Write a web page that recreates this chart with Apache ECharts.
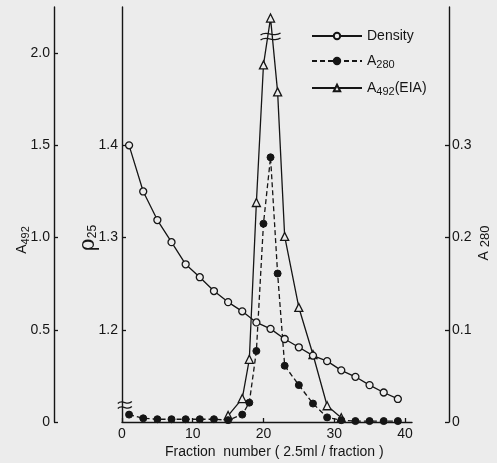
<!DOCTYPE html>
<html>
<head>
<meta charset="utf-8">
<script src="https://cdn.jsdelivr.net/npm/echarts@6/dist/echarts.min.js"></script>
<style>
  html, body { margin: 0; background: #ececec; }
  #c { width: 497px; height: 463px; }
</style>
</head>
<body>
<div id="c"></div>
<script>
const fractionTicks = [0, 10, 20, 30, 40];
const densityTicks = [1.2, 1.3, 1.4];
const a492Ticks = [0, 0.5, 1.0, 1.5, 2.0];
const a280Ticks = [0, 0.1, 0.2, 0.3];

const densityFractions = [1, 3, 5, 7, 9, 11, 13, 15, 17, 19, 21, 23, 25, 27, 29, 31, 33, 35, 37, 39];
const densityValues = [1.400, 1.350, 1.319, 1.295, 1.271, 1.257, 1.242, 1.230, 1.220, 1.208,
                       1.201, 1.190, 1.181, 1.172, 1.166, 1.156, 1.149, 1.140, 1.132, 1.125];

const a280Fractions = [1, 3, 5, 7, 9, 11, 13, 15, 17, 18, 19, 20, 21, 22, 23, 25, 27, 29, 31, 33, 35, 37, 39];
const a280Values = [0.008, 0.004, 0.003, 0.003, 0.003, 0.003, 0.003, 0.002, 0.008, 0.021, 0.077, 0.215,
                    0.287, 0.161, 0.061, 0.040, 0.020, 0.005, 0.002, 0.001, 0.001, 0.001, 0.001];

const a492Fractions = [15, 17, 18, 19, 20, 21, 22, 23, 25, 27, 29, 31];
const a492Values = [0.035, 0.127, 0.340, 1.19, 1.936, 2.19, 1.79, 1.006, 0.621, 0.366, 0.088, 0.023];

const BG = '#ececec';
const INK = '#151515';
const FONT = 'Liberation Sans, Arial, sans-serif';
const SUB = { fontSize: 11, fontFamily: FONT, color: INK, padding: [7, 0, 0, 0] };

const zip = (xs, ys) => xs.map((x, i) => [x, ys[i]]);

const Y_AXIS = {
  type: 'value',
  axisLine: { show: true, onZero: false, lineStyle: { color: INK, width: 1.4 } },
  axisTick: { show: true, inside: true, length: 4, lineStyle: { color: INK, width: 1.3 } },
  axisLabel: { color: INK, fontSize: 14, fontFamily: FONT, margin: 4 },
  splitLine: { show: false },
};

const c = echarts.init(document.getElementById('c'), null, { renderer: 'canvas' });
c.setOption({
  backgroundColor: BG,
  animation: false,
  textStyle: { fontFamily: FONT, color: INK },
  grid: { left: 122, right: 85, top: 7, bottom: 41 },
  legend: {
    left: 306, top: 24, orient: 'vertical',
    itemWidth: 50, itemHeight: 8, itemGap: 11,
    textStyle: { fontSize: 14, color: INK, fontFamily: FONT, rich: { s: SUB } },
    formatter: n => n === 'Density' ? n : n === 'A280' ? 'A{s|280}' : 'A{s|492}(EIA)',
    data: ['Density', 'A280', 'A492'],
  },
  xAxis: {
    type: 'value', min: 0, max: 41,
    axisLine: { show: true, onZero: false, lineStyle: { color: INK, width: 1.4 } },
    axisTick: { show: true, inside: true, length: 4, customValues: fractionTicks, lineStyle: { color: INK, width: 1.3 } },
    axisLabel: { color: INK, fontSize: 14, fontFamily: FONT, margin: 5, customValues: fractionTicks },
    splitLine: { show: false },
  },
  yAxis: [
    {
      ...Y_AXIS, position: 'left', offset: 68, min: 0, max: 2.25,
      axisTick: { ...Y_AXIS.axisTick, customValues: a492Ticks },
      axisLabel: { ...Y_AXIS.axisLabel, customValues: a492Ticks, formatter: v => v === 0 ? '0' : v.toFixed(1) },
    },
    {
      ...Y_AXIS, position: 'left', offset: 0, min: 1.1, max: 1.55,
      axisTick: { ...Y_AXIS.axisTick, customValues: densityTicks },
      axisLabel: { ...Y_AXIS.axisLabel, customValues: densityTicks, formatter: v => v.toFixed(1) },
    },
    {
      ...Y_AXIS, position: 'right', offset: 37, min: 0, max: 0.45,
      axisTick: { ...Y_AXIS.axisTick, customValues: a280Ticks },
      axisLabel: { ...Y_AXIS.axisLabel, margin: 3, customValues: a280Ticks, formatter: v => v === 0 ? '0' : v.toFixed(1) },
    },
  ],
  series: [
    {
      name: 'A492', type: 'line', yAxisIndex: 0, data: zip(a492Fractions, a492Values),
      symbol: 'triangle', symbolSize: 8,
      lineStyle: { color: INK, width: 1.3 },
      itemStyle: { color: BG, borderColor: INK, borderWidth: 1.3 },
    },
    {
      name: 'A280', type: 'line', yAxisIndex: 2, data: zip(a280Fractions, a280Values),
      symbol: 'circle', symbolSize: 7,
      lineStyle: { color: INK, width: 1.3, type: [5, 3] },
      itemStyle: { color: INK, borderColor: INK, borderWidth: 1 },
    },
    {
      name: 'Density', type: 'line', yAxisIndex: 1, data: zip(densityFractions, densityValues),
      symbol: 'circle', symbolSize: 7,
      lineStyle: { color: INK, width: 1.3 },
      itemStyle: { color: BG, borderColor: INK, borderWidth: 1.3 },
    },
  ],
});

// axis-break marks, placed through the scales
function breakMark(pt, w, tilt) {
  const [x, y] = c.convertToPixel({ xAxisIndex: 0, yAxisIndex: 0 }, pt);
  const wave = dy => ({
    type: 'bezierCurve',
    shape: { x1: -w / 2, y1: dy + tilt, x2: w / 2, y2: dy - tilt,
             cpx1: -w / 6, cpy1: dy - 4, cpx2: w / 6, cpy2: dy + 4 },
    style: { stroke: INK, lineWidth: 1.3, fill: null },
  });
  return {
    type: 'group', x, y, z: 100,
    children: [
      { type: 'rect', shape: { x: -w / 2, y: -2, width: w, height: 4 }, style: { fill: BG } },
      wave(-2.5), wave(2.5),
    ],
  };
}

c.setOption({
  graphic: [
    breakMark([21, 2.09], 20, 1),
    breakMark([0.4, 0.092], 14, 1),
    {
      type: 'text', x: 22, y: 240, rotation: Math.PI / 2, z: 100,
      style: { text: 'A{s|492}', font: '14px ' + FONT, fill: INK, align: 'center', verticalAlign: 'middle', rich: { s: SUB } },
    },
    {
      type: 'text', x: 88, y: 238, rotation: Math.PI / 2, z: 100,
      style: { text: '{r|ρ}{s|25}', fill: INK, align: 'center', verticalAlign: 'middle',
               rich: { r: { fontSize: 22, fontFamily: 'DejaVu Serif', color: INK }, s: { ...SUB, fontSize: 12, padding: [10, 0, 0, 0] } } },
    },
    {
      type: 'text', x: 484, y: 243, rotation: Math.PI / 2, z: 100,
      style: { text: 'A {s|280}', font: '14px ' + FONT, fill: INK, align: 'center', verticalAlign: 'middle', rich: { s: { ...SUB, fontSize: 13, padding: [3, 0, 0, 0] } } },
    },
    {
      type: 'text', x: 165, y: 452, z: 100,
      style: { text: 'Fraction  number ( 2.5ml / fraction )', font: '14px ' + FONT, fill: INK, align: 'left', verticalAlign: 'middle' },
    },
  ],
});
</script>
</body>
</html>
